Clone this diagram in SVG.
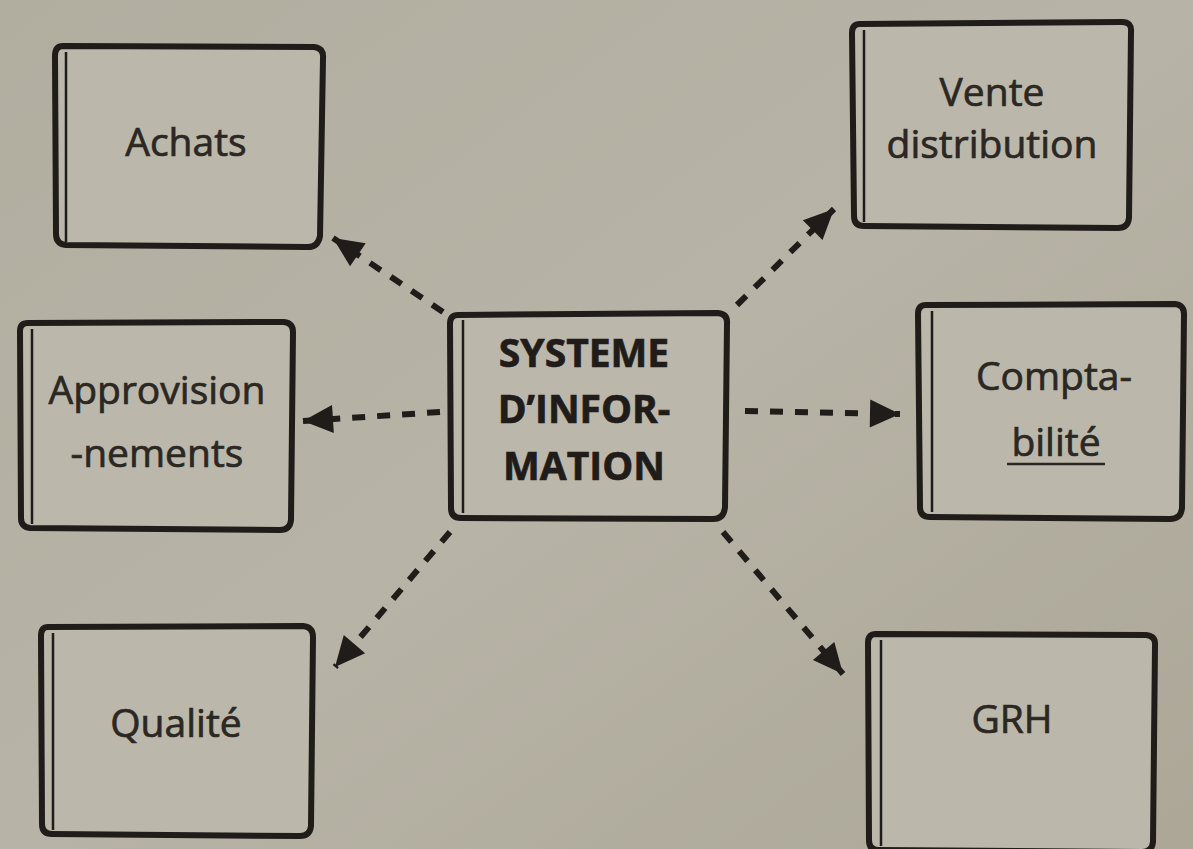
<svg xmlns="http://www.w3.org/2000/svg" width="1193" height="849" viewBox="0 0 1193 849">
<defs>
<marker id="ah" markerUnits="userSpaceOnUse" markerWidth="34" markerHeight="34" viewBox="0 0 34 34" refX="32" refY="17" orient="auto">
<path d="M2,3 L32,17 L2,31 Z" fill="#1f1c19"/>
</marker>
<linearGradient id="bg" x1="0" y1="0" x2="1" y2="1">
<stop offset="0" stop-color="#b1ad9f"/>
<stop offset="0.5" stop-color="#b7b3a6"/>
<stop offset="1" stop-color="#aca797"/>
</linearGradient>
</defs>
<style>
.box{fill:#bbb7ab;stroke:#1f1c19;stroke-width:6;stroke-linejoin:round}
.inner{fill:none;stroke:#1f1c19;stroke-width:2.5}
.lbl{font-family:"Open Sans","Noto Sans","Liberation Sans",sans-serif;font-size:39px;fill:#2b2723;stroke:#2b2723;stroke-width:0.7;text-anchor:middle}
.bold{font-weight:700;fill:#1f1c19;stroke:#1f1c19}
.conn{fill:none;stroke:#1f1c19;stroke-width:6;stroke-dasharray:13 12;marker-end:url(#ah)}
</style>
<rect width="1193" height="849" fill="url(#bg)"/>
<g id="connectors">
<line class="conn" x1="443" y1="312" x2="333" y2="238"/>
<line class="conn" x1="440" y1="412" x2="303" y2="421"/>
<line class="conn" x1="450" y1="532" x2="335" y2="667"/>
<line class="conn" x1="737" y1="305" x2="834" y2="209"/>
<line class="conn" x1="745" y1="411" x2="900" y2="414"/>
<line class="conn" x1="723" y1="532" x2="843" y2="674"/>
</g>
<g id="achats">
<path class="box" d="M63,46 L314,47 Q324,48 323,58 L320,236 Q318,248 306,247 L66,245 Q56,244 56,234 L55,56 Q55,46 63,46 Z"/>
<line class="inner" x1="66" y1="52" x2="66" y2="242"/>
<text class="lbl" x="186" y="156">Achats</text>
</g>
<g id="vente">
<path class="box" d="M860,24 L1122,22 Q1132,22 1131,32 L1129,218 Q1128,228 1118,228 L864,226 Q854,226 854,216 L852,33 Q852,24 860,24 Z"/>
<line class="inner" x1="864" y1="30" x2="864" y2="222"/>
<text class="lbl" x="992" y="106">Vente</text>
<text class="lbl" x="992" y="158">distribution</text>
</g>
<g id="approv">
<path class="box" d="M28,323 L284,322 Q293,323 293,332 L291,520 Q290,530 280,530 L30,528 Q21,527 21,518 L20,331 Q20,323 28,323 Z"/>
<line class="inner" x1="32" y1="329" x2="32" y2="524"/>
<text class="lbl" x="157" y="404">Approvision</text>
<text class="lbl" x="157" y="467">-nements</text>
</g>
<g id="si">
<path class="box" d="M458,315 L718,313 Q728,314 727,324 L725,507 Q724,519 713,519 L461,518 Q451,518 451,508 L450,324 Q450,315 458,315 Z"/>
<line class="inner" x1="463" y1="320" x2="463" y2="513"/>
<text class="lbl bold" x="584" y="367">SYSTEME</text>
<text class="lbl bold" x="584" y="423">D’INFOR-</text>
<text class="lbl bold" x="584" y="480">MATION</text>
</g>
<g id="compta">
<path class="box" d="M926,305 L1175,304 Q1184,305 1184,314 L1182,508 Q1181,519 1170,519 L930,517 Q920,517 920,507 L918,314 Q918,305 926,305 Z"/>
<line class="inner" x1="932" y1="311" x2="932" y2="512"/>
<text class="lbl" x="1054" y="390">Compta-</text>
<text class="lbl" x="1056" y="456">bilité</text>
<line x1="1007" y1="464" x2="1105" y2="464" stroke="#2b2723" stroke-width="2.5"/>
</g>
<g id="qualite">
<path class="box" d="M48,627 L303,626 Q313,627 313,637 L311,826 Q310,836 300,836 L52,834 Q42,834 42,824 L41,636 Q41,627 48,627 Z"/>
<line class="inner" x1="53" y1="633" x2="53" y2="830"/>
<text class="lbl" x="176" y="737">Qualité</text>
</g>
<g id="grh">
<path class="box" d="M876,634 L1146,635 Q1156,636 1155,646 L1153,842 Q1152,852 1142,852 L878,850 Q869,850 869,840 L868,643 Q868,634 876,634 Z"/>
<line class="inner" x1="881" y1="640" x2="881" y2="846"/>
<text class="lbl" x="1012" y="733">GRH</text>
</g>
</svg>
